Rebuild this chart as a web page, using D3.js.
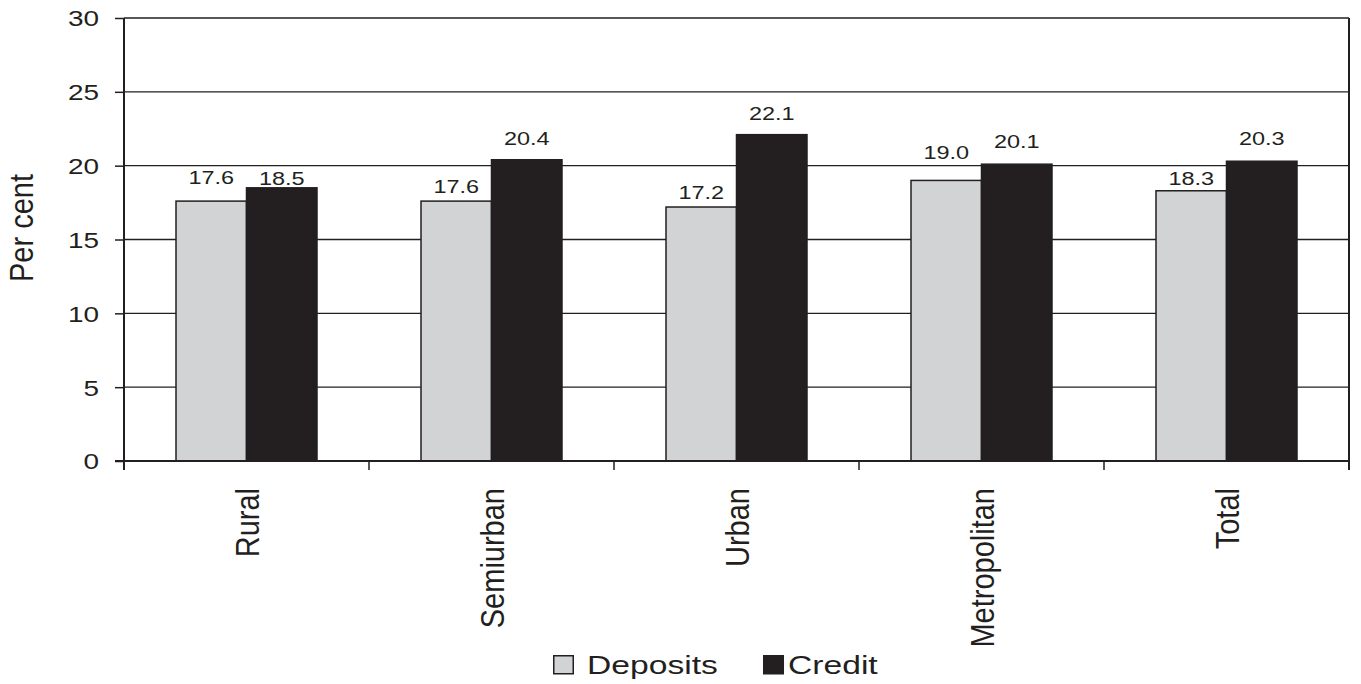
<!DOCTYPE html>
<html>
<head>
<meta charset="utf-8">
<script src="https://cdn.jsdelivr.net/npm/d3@7"></script>
<style>
  html, body { margin: 0; padding: 0; background: #fff; }
  svg { display: block; }
  text { font-family: "Liberation Sans", Arial, Helvetica, sans-serif; fill: #231f20; }
</style>
</head>
<body>
<svg id="chart" width="1361" height="684"></svg>
<script>
// ---- data ----
const categories = ["Rural", "Semiurban", "Urban", "Metropolitan", "Total"];
const seriesNames = ["Deposits", "Credit"];
const deposits = [17.6, 17.6, 17.2, 19.0, 18.3];
const credit = [18.5, 20.4, 22.1, 20.1, 20.3];
const yTicks = [0, 5, 10, 15, 20, 25, 30];
const yLabel = "Per cent";

// ---- layout / style ----
const W = 1361, H = 684;
const plot = { left: 124, right: 1349, top: 18, bottom: 461 };
const colors = { Deposits: "#d1d3d4", Credit: "#231f20" };
const ink = "#231f20";
const sx = 1.27;          // horizontal stretch of horizontal text
const rotStretch = 1.15;  // stretch of rotated text glyph height
// vertical gap (px) between bar top and label baseline
const labelGap = { Deposits: [17, 8, 8, 21, 6], Credit: [3, 15, 15, 16, 16] };

const svg = d3.select("#chart");

const x0 = d3.scaleBand().domain(categories).range([plot.left, plot.right]).paddingInner(0).paddingOuter(0);
const x1 = d3.scaleBand().domain(seriesNames).range([0, x0.bandwidth()]).paddingInner(0).paddingOuter(0.7376);
const y = d3.scaleLinear().domain([0, 30]).range([plot.bottom, plot.top]);

const valuesBy = { Deposits: deposits, Credit: credit };

// gridlines (5..30)
svg.append("g").selectAll("line").data(yTicks.filter(t => t > 0)).join("line")
  .attr("x1", plot.left).attr("x2", plot.right)
  .attr("y1", d => y(d)).attr("y2", d => y(d))
  .attr("stroke", ink).attr("stroke-width", 1.4);

// right border
svg.append("line")
  .attr("x1", plot.right).attr("x2", plot.right)
  .attr("y1", y(30)).attr("y2", plot.bottom + 9)
  .attr("stroke", ink).attr("stroke-width", 2);

// bars
const groups = svg.append("g").selectAll("g").data(categories).join("g")
  .attr("transform", d => `translate(${x0(d)},0)`);

seriesNames.forEach(s => {
  groups.append("rect")
    .attr("x", x1(s))
    .attr("width", x1.bandwidth())
    .attr("y", (d, i) => y(valuesBy[s][i]))
    .attr("height", (d, i) => y(0) - y(valuesBy[s][i]))
    .attr("fill", colors[s])
    .attr("stroke", ink)
    .attr("stroke-width", 1.5);
});

// value labels
seriesNames.forEach(s => {
  groups.append("text")
    .attr("transform", (d, i) =>
      `translate(${x1(s) + x1.bandwidth() / 2},${y(valuesBy[s][i]) - labelGap[s][i]}) scale(${sx},1)`)
    .attr("text-anchor", "middle")
    .style("font-size", "18.5px")
    .text((d, i) => valuesBy[s][i].toFixed(1));
});

// y axis
const yAxis = svg.append("g")
  .attr("transform", `translate(${plot.left},0)`)
  .call(d3.axisLeft(y).tickValues(yTicks).tickSize(9).tickFormat(d3.format("d")));
yAxis.select(".domain").remove();
yAxis.selectAll(".tick line").attr("stroke", ink).attr("stroke-width", 1.5);
yAxis.selectAll(".tick text")
  .attr("x", null).attr("dy", null)
  .attr("transform", `translate(-25,0) scale(${sx},1)`)
  .attr("dy", "0.36em")
  .attr("text-anchor", "end")
  .style("font-size", "22px")
  .style("font-family", null)
  .attr("fill", ink);
svg.append("line")
  .attr("x1", plot.left).attr("x2", plot.left)
  .attr("y1", plot.top).attr("y2", plot.bottom + 9)
  .attr("stroke", ink).attr("stroke-width", 2);

// x axis baseline
svg.append("line")
  .attr("x1", plot.left - 9).attr("x2", plot.right)
  .attr("y1", y(0)).attr("y2", y(0))
  .attr("stroke", ink).attr("stroke-width", 2);

// category boundary ticks
svg.append("g").selectAll("line").data(categories.slice(1)).join("line")
  .attr("x1", d => x0(d)).attr("x2", d => x0(d))
  .attr("y1", plot.bottom).attr("y2", plot.bottom + 9)
  .attr("stroke", ink).attr("stroke-width", 1.5);

// category labels
const xAxis = svg.append("g")
  .attr("transform", `translate(0,${plot.bottom})`)
  .call(d3.axisBottom(x0).tickSize(0));
xAxis.select(".domain").remove();
xAxis.selectAll(".tick text")
  .attr("y", null).attr("dy", null)
  .attr("transform", `rotate(-90) scale(1,${rotStretch})`)
  .attr("x", -27)
  .attr("y", 0)
  .attr("dy", "0.36em")
  .attr("text-anchor", "end")
  .style("font-size", "29px")
  .style("font-family", null)
  .attr("fill", ink);

// y label
svg.append("text")
  .attr("transform", `translate(33,228) rotate(-90) scale(1,${rotStretch})`)
  .attr("text-anchor", "middle")
  .style("font-size", "29px")
  .text(yLabel);

// legend
const legendItems = [
  { name: "Deposits", sw: 553, tx: 587 },
  { name: "Credit", sw: 763, tx: 788 }
];
const lg = svg.append("g");
legendItems.forEach(it => {
  lg.append("rect")
    .attr("x", it.sw + 0.75).attr("y", 655.75)
    .attr("width", 19.5).attr("height", 18)
    .attr("fill", colors[it.name]).attr("stroke", ink).attr("stroke-width", 1.5);
  lg.append("text")
    .attr("transform", `translate(${it.tx},674) scale(${sx},1)`)
    .style("font-size", "26.5px")
    .text(it.name);
});
</script>
</body>
</html>
